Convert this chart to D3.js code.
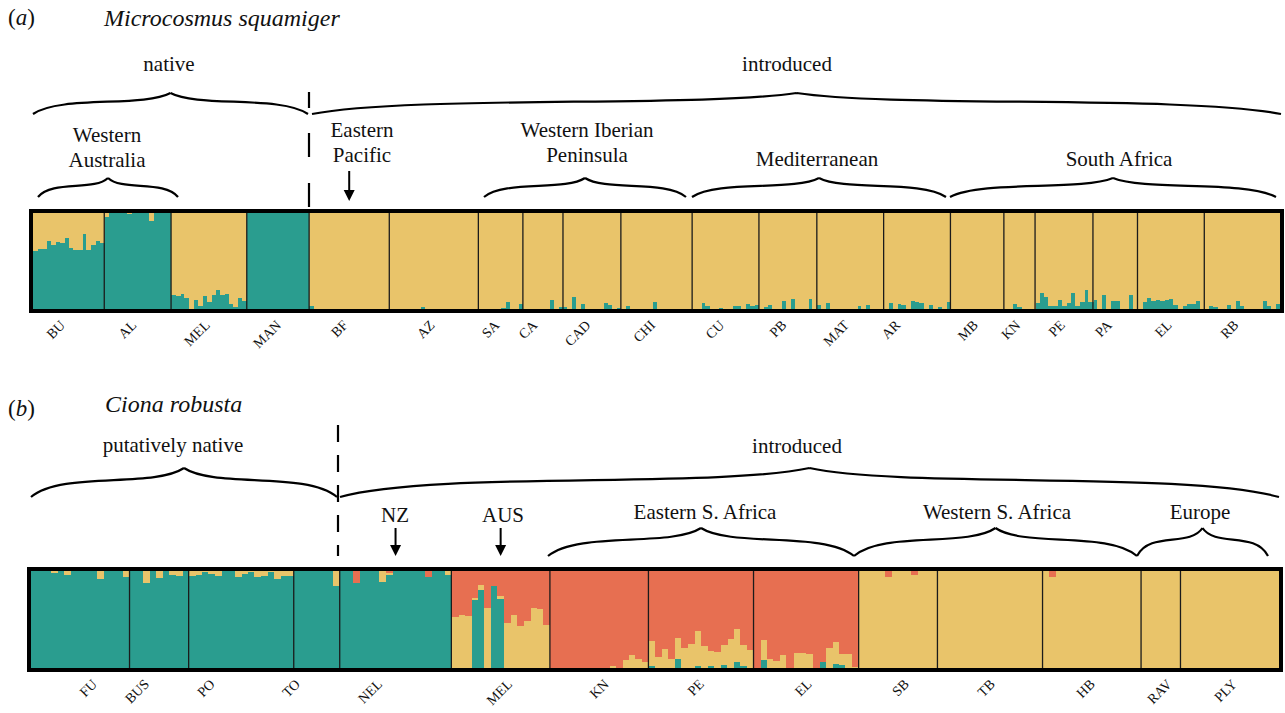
<!DOCTYPE html>
<html>
<head>
<meta charset="utf-8">
<script src="https://cdn.jsdelivr.net/npm/d3@7"></script>
<style>
  body { margin: 0; background: #fff; }
  text { font-family: 'Liberation Serif', 'Times New Roman', serif; fill: #111; }
</style>
</head>
<body>
<svg id="chart" width="1285" height="713"></svg>
<script>
'use strict'

// cluster colours
const COLORS = { teal: '#2a9d8f', yellow: '#e9c46a', red: '#e76f51' }

// (a) Microcosmus squamiger : teal membership per individual (rest is yellow)
const popsA = ['BU', 'AL', 'MEL', 'MAN', 'BF', 'AZ', 'SA', 'CA', 'CAD', 'CHI',
  'CU', 'PB', 'MAT', 'AR', 'MB', 'KN', 'PE', 'PA', 'EL', 'RB']
const tealA = [
  [0.608, 0.628, 0.628, 0.712, 0.67, 0.698, 0.69, 0.743, 0.639, 0.611, 0.618, 0.785, 0.611, 0.67, 0.712, 0.684],
  [0.955, 1, 1, 1, 1, 0.99, 1, 1, 1, 1, 0.913, 1, 1, 1, 1],
  [0.149, 0.139, 0.16, 0.111, 0, 0.09, 0.035, 0.139, 0.069, 0.149, 0.201, 0.149, 0.16, 0.056, 0.017, 0.111, 0.08],
  [1, 1, 1, 1, 1, 1, 1, 1, 1, 1, 1, 1, 1, 1],
  [0.035, 0, 0, 0, 0, 0, 0, 0, 0, 0, 0, 0, 0, 0, 0, 0, 0, 0],
  [0, 0, 0, 0, 0, 0, 0, 0.025, 0, 0, 0, 0, 0, 0, 0, 0, 0, 0, 0, 0],
  [0, 0, 0, 0, 0, 0.014, 0.076, 0, 0, 0.056],
  [0, 0, 0, 0, 0, 0, 0.097, 0, 0.024],
  [0.024, 0, 0.128, 0, 0.056, 0, 0, 0, 0, 0.066, 0.045, 0, 0.007],
  [0, 0.035, 0, 0, 0, 0, 0, 0.076, 0, 0, 0, 0, 0, 0, 0, 0],
  [0, 0, 0.0625, 0.031, 0, 0, 0.01, 0, 0, 0.031, 0.031, 0, 0.052, 0.031, 0.042],
  [0, 0.021, 0.042, 0, 0, 0.083, 0, 0.104, 0, 0, 0, 0.104, 0],
  [0.042, 0, 0.0625, 0, 0, 0, 0, 0, 0, 0.031, 0, 0.042, 0, 0, 0],
  [0, 0.0625, 0, 0.052, 0.042, 0, 0.083, 0.073, 0.0625, 0, 0.042, 0, 0.021, 0, 0.073],
  [0, 0, 0, 0, 0, 0, 0, 0, 0, 0, 0, 0],
  [0, 0, 0.052, 0.021, 0, 0, 0],
  [0.0625, 0.167, 0.125, 0.031, 0.031, 0.094, 0.031, 0.0625, 0.167, 0.031, 0.073, 0.198, 0.073],
  [0.094, 0, 0.146, 0, 0.083, 0.083, 0, 0, 0.146, 0],
  [0, 0.073, 0.115, 0.083, 0.094, 0.083, 0.094, 0.104, 0.042, 0, 0.031, 0.052, 0.052, 0.083, 0],
  [0, 0.031, 0.021, 0, 0, 0.042, 0, 0.083, 0.031, 0, 0, 0, 0, 0.083, 0.031, 0, 0.052]
]
// label anchors, in individuals from the left edge
const ticksA = [7.4, 23.4, 39.9, 55.9, 70.9, 90.4, 104.9, 113.4, 125.4, 139.9, 155.4, 169.4, 183.4, 194.9, 212.4, 221.9, 231.9, 242.4, 255.9, 270.9]

// (b) Ciona robusta : teal and yellow membership (rest is red)
const popsB = ['FU', 'BUS', 'PO', 'TO', 'NEL', 'MEL', 'KN', 'PE', 'EL', 'SB', 'TB', 'HB', 'RAV', 'PLY']
const tealB = [
  [1, 1, 1, 0.983, 1, 0.955, 1, 1, 1, 1, 0.92, 1, 1, 1, 0.935],
  [1, 1, 0.876, 1, 0.931, 1, 0.959, 0.952, 1],
  [0.945, 0.96, 0.985, 0.966, 0.952, 1, 0.995, 0.942, 0.97, 0.99, 0.942, 0.952, 0.99, 0.918, 0.952, 0.952],
  [1, 1, 1, 1, 1, 1, 0.848],
  [1, 1, 0.876, 1, 1, 1, 0.89, 0.959, 1, 1, 1, 1, 1, 0.941, 1, 1, 0.959],
  [0, 0, 0, 0.7, 0.803, 0, 0.845, 0.71, 0, 0, 0, 0, 0, 0, 0],
  [0, 0, 0, 0, 0, 0, 0, 0, 0, 0, 0, 0, 0, 0, 0],
  [0.017, 0, 0, 0, 0.097, 0, 0, 0.024, 0, 0.017, 0, 0.034, 0, 0.059, 0.017, 0],
  [0, 0.079, 0, 0, 0, 0, 0, 0, 0, 0, 0.059, 0, 0.038, 0.028, 0, 0],
  [0, 0, 0, 0, 0, 0, 0, 0, 0, 0, 0, 0],
  [0, 0, 0, 0, 0, 0, 0, 0, 0, 0, 0, 0, 0, 0, 0, 0],
  [0, 0, 0, 0, 0, 0, 0, 0, 0, 0, 0, 0, 0, 0, 0],
  [0, 0, 0, 0, 0, 0],
  [0, 0, 0, 0, 0, 0, 0, 0, 0, 0, 0, 0, 0, 0, 0]
]
const yellowB = [
  [0, 0, 0, 0.017, 0, 0.045, 0, 0, 0, 0, 0.08, 0, 0, 0, 0.065],
  [0, 0, 0.124, 0, 0.069, 0, 0.041, 0.048, 0],
  [0.055, 0.04, 0.015, 0.034, 0.048, 0, 0.005, 0.058, 0.03, 0.01, 0.058, 0.048, 0.01, 0.082, 0.048, 0.048],
  [0, 0, 0, 0, 0, 0, 0.152],
  [0, 0, 0, 0, 0, 0, 0.11, 0.017, 0, 0, 0, 0, 0, 0, 0, 0, 0.041],
  [0.528, 0.545, 0.535, 0.024, 0.052, 0.614, 0, 0.031, 0.466, 0.545, 0.431, 0.483, 0.614, 0.607, 0.441],
  [0, 0, 0, 0, 0, 0, 0, 0, 0, 0.024, 0, 0.086, 0.131, 0.09, 0.059],
  [0.259, 0.114, 0.2, 0.097, 0.217, 0.21, 0.252, 0.355, 0.224, 0.155, 0.162, 0.2, 0.297, 0.348, 0.217, 0.183],
  [0, 0.207, 0.097, 0.069, 0.131, 0, 0.155, 0.155, 0.141, 0, 0, 0.207, 0.231, 0.113, 0.141, 0.01],
  [1, 1, 1, 1, 0.938, 1, 1, 1, 0.959, 1, 1, 1],
  [1, 1, 1, 1, 1, 1, 1, 1, 1, 1, 1, 1, 1, 1, 1, 1],
  [1, 0.941, 1, 1, 1, 1, 1, 1, 1, 1, 1, 1, 1, 1, 1],
  [1, 1, 1, 1, 1, 1],
  [1, 1, 1, 1, 1, 1, 1, 1, 1, 1, 1, 1, 1, 1, 1]
]
const ticksB = [10.2, 18.1, 28.1, 41.1, 53.6, 73.4, 88.1, 102.6, 119, 133.8, 146.9, 162.1, 173.8, 183.7]

const svg = d3.select('#chart')

// turn per-population arrays into one row per individual
const toRows = (pops, teal, yellow) => {
  const rows = []
  pops.forEach((pop, pi) => {
    teal[pi].forEach((t, ii) => {
      const y = yellow ? yellow[pi][ii] : 1 - t
      rows.push({ id: rows.length, pop, teal: t, yellow: y, red: Math.max(0, 1 - t - y) })
    })
  })
  return rows
}

const drawStructure = (rows, pops, ticks, box) => {
  const g = svg.append('g')
  const x = d3.scaleBand().domain(rows.map(r => r.id)).range([box.x0, box.x1]).padding(0)
  const xi = d3.scaleLinear().domain([0, rows.length]).range([box.x0, box.x1])
  const y = d3.scaleLinear().domain([0, 1]).range([box.y1, box.y0])
  const keys = ['teal', 'yellow', 'red']
  const series = d3.stack().keys(keys)(rows)

  g.selectAll('g.layer')
    .data(series)
    .enter().append('g')
    .attr('class', 'layer')
    .attr('fill', d => COLORS[d.key])
    .attr('shape-rendering', 'crispEdges')
    .selectAll('rect')
    .data(d => d.filter(s => s[1] - s[0] > 0.0005))
    .enter().append('rect')
    .attr('x', d => x(d.data.id))
    .attr('width', x.bandwidth() + 0.6)
    .attr('y', d => y(d[1]))
    .attr('height', d => y(d[0]) - y(d[1]))

  // population separators
  const starts = pops.map(p => rows.find(r => r.pop === p).id).slice(1)
  g.selectAll('line.sep')
    .data(starts)
    .enter().append('line')
    .attr('class', 'sep')
    .attr('x1', d => x(d)).attr('x2', d => x(d))
    .attr('y1', box.y0).attr('y2', box.y1)
    .attr('stroke', '#1b1b1b')
    .attr('stroke-width', 1.3)

  // frame
  g.append('rect')
    .attr('x', box.x0 - 2).attr('y', box.y0 - 2)
    .attr('width', box.x1 - box.x0 + 4).attr('height', box.y1 - box.y0 + 4)
    .attr('fill', 'none')
    .attr('stroke', '#000')
    .attr('stroke-width', 4)

  // population labels
  g.selectAll('text.pop')
    .data(pops)
    .enter().append('text')
    .attr('class', 'pop')
    .attr('text-anchor', 'end')
    .attr('font-size', 14)
    .attr('transform', (d, i) => `translate(${xi(ticks[i])},${box.y1 + 17}) rotate(-45)`)
    .text(d => d)

  return { x, xi, y, rows }
}

const rowsA = toRows(popsA, tealA)
const rowsB = toRows(popsB, tealB, yellowB)
const plotA = drawStructure(rowsA, popsA, ticksA, { x0: 33, x1: 1280, y0: 213, y1: 309 })
const plotB = drawStructure(rowsB, popsB, ticksB, { x0: 31, x1: 1279, y0: 571, y1: 668 })

// centre of a population on its plot
const popCenter = (plot, pop) => {
  const ids = plot.rows.filter(r => r.pop === pop).map(r => r.id)
  return plot.xi((ids[0] + ids[ids.length - 1] + 1) / 2)
}

// ---- annotations ----
const ann = svg.append('g')

const label = (txt, x, y, opts = {}) => {
  ann.append('text')
    .attr('x', x).attr('y', y)
    .attr('text-anchor', opts.anchor || 'middle')
    .attr('font-size', opts.size || 21)
    .attr('font-style', opts.italic ? 'italic' : null)
    .text(txt)
}

const panelTag = (letter, x, y) => {
  const t = ann.append('text').attr('x', x).attr('y', y).attr('font-size', 23)
  t.append('tspan').text('(')
  t.append('tspan').attr('font-style', 'italic').text(letter)
  t.append('tspan').text(')')
}

// horizontal curly brace, ends at yEnd, tip pointing up by h
const brace = (xa, xb, yEnd, h) => {
  const half = (xb - xa) / 2
  const xm = xa + half
  const yt = yEnd - h
  const d = `M${xa},${yEnd} C${xa + 0.2 * half},${yEnd - 0.9 * h} ${xm - 0.2 * half},${yEnd - 0.3 * h} ${xm},${yt}` +
    ` M${xb},${yEnd} C${xb - 0.2 * half},${yEnd - 0.9 * h} ${xm + 0.2 * half},${yEnd - 0.3 * h} ${xm},${yt}`
  ann.append('path')
    .attr('d', d)
    .attr('fill', 'none')
    .attr('stroke', '#000')
    .attr('stroke-width', 2.2)
}

const arrow = (x, ya, yb) => {
  ann.append('line')
    .attr('x1', x).attr('x2', x).attr('y1', ya).attr('y2', yb - 9)
    .attr('stroke', '#000').attr('stroke-width', 2)
  ann.append('path')
    .attr('d', `M${x - 5.5},${yb - 11} L${x + 5.5},${yb - 11} L${x},${yb} Z`)
    .attr('fill', '#000')
}

const dashed = (x, ya, yb, dash) => {
  ann.append('line')
    .attr('x1', x).attr('x2', x).attr('y1', ya).attr('y2', yb)
    .attr('stroke', '#000').attr('stroke-width', 2.2)
    .attr('stroke-dasharray', dash)
}

// panel (a)
panelTag('a', 8, 25)
label('Microcosmus squamiger', 104, 26, { anchor: 'start', italic: true, size: 24 })
label('native', 169, 71)
label('introduced', 787, 71)
brace(33, 308, 114, 21)
brace(312, 1281, 114, 21)
dashed(309, 92, 208, '16 25 24 26 24 26')
label('Western', 107, 142)
label('Australia', 107, 167)
brace(38, 178, 197, 19)
label('Eastern', 362, 137)
label('Pacific', 362, 162)
arrow(popCenter(plotA, 'BF'), 171, 201)
label('Western Iberian', 587, 137)
label('Peninsula', 587, 162)
brace(484, 686, 197, 19)
label('Mediterranean', 817, 166)
brace(692, 946, 197, 19)
label('South Africa', 1119, 166)
brace(950, 1276, 197, 19)

// panel (b)
panelTag('b', 8, 416)
label('Ciona robusta', 105, 412, { anchor: 'start', italic: true, size: 24 })
label('putatively native', 173, 452)
label('introduced', 797, 453)
brace(31, 337, 497, 29)
brace(340, 1279, 497, 29)
dashed(338, 425, 556, '17 13')
label('NZ', 395, 522)
arrow(popCenter(plotB, 'NEL'), 528, 556)
label('AUS', 503, 522)
arrow(popCenter(plotB, 'MEL'), 528, 556)
label('Eastern S. Africa', 705, 519)
brace(548, 854, 556, 28)
label('Western S. Africa', 997, 519)
brace(854, 1137, 556, 28)
label('Europe', 1200, 519)
brace(1137, 1268, 556, 28)
</script>
</body>
</html>
